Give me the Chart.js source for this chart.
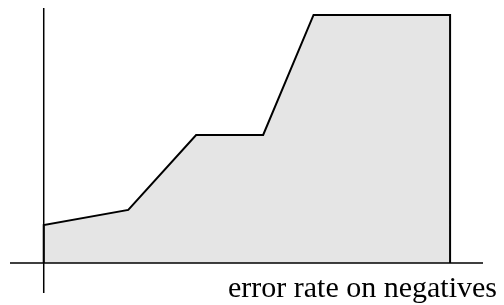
<!DOCTYPE html>
<html lang="en">
<head>
    <meta charset="UTF-8">
    <title>Error rate on negatives</title>
    <script src="https://cdn.jsdelivr.net/npm/chart.js@4.4.4/dist/chart.umd.min.js"></script>
    <style>
        body {
            margin: 0;
            background-color: white;
        }
        #chart-container {
            width: 504px;
            height: 305px;
        }
    </style>
</head>
<body>
    <div id="chart-container">
        <canvas id="cost-chart" width="504" height="305"></canvas>
    </div>

    <script>
        // curve points (x = error rate on negatives, y = height)
        const xValues = [0, 0, 0.208, 0.375, 0.540, 0.664, 1, 1];
        const yValues = [0, 0.153, 0.214, 0.516, 0.516, 1, 1, 0];
        const xLabel = 'error rate on negatives';

        // axis ranges, so the axis lines stick out past the curve
        const xRange = [-0.083, 1.081];
        const yRange = [-0.121, 1.028];

        const points = xValues.map((x, i) => ({ x: x, y: yValues[i] }));

        // draws the two crossing axis lines through zero and the label
        const axesPlugin = {
            id: 'axesLines',
            afterDatasetsDraw(chart) {
                const ctx = chart.ctx;
                const area = chart.chartArea;
                const x0 = chart.scales.x.getPixelForValue(0);
                const y0 = chart.scales.y.getPixelForValue(0);
                ctx.save();
                ctx.strokeStyle = '#000';
                ctx.lineWidth = 1.5;
                ctx.beginPath();
                ctx.moveTo(area.left, y0);
                ctx.lineTo(area.right, y0);
                ctx.moveTo(x0, area.top);
                ctx.lineTo(x0, area.bottom);
                ctx.stroke();

                ctx.fillStyle = '#000';
                ctx.font = '30px "Liberation Serif", "Times New Roman", serif';
                ctx.textAlign = 'right';
                ctx.textBaseline = 'alphabetic';
                ctx.fillText(xLabel, area.right + 14, area.bottom + 4);
                ctx.restore();
            }
        };

        const ctx = document.getElementById('cost-chart').getContext('2d');
        new Chart(ctx, {
            type: 'scatter',
            data: {
                datasets: [{
                    data: points,
                    showLine: true,
                    borderColor: '#000',
                    borderWidth: 2,
                    borderJoinStyle: 'miter',
                    backgroundColor: 'rgb(229, 229, 229)',
                    fill: 'origin',
                    pointRadius: 0,
                    tension: 0
                }]
            },
            options: {
                responsive: false,
                animation: false,
                layout: {
                    padding: { left: 10, right: 21, top: 8, bottom: 12 }
                },
                plugins: {
                    legend: { display: false },
                    tooltip: { enabled: false }
                },
                scales: {
                    x: { type: 'linear', min: xRange[0], max: xRange[1], display: false },
                    y: { type: 'linear', min: yRange[0], max: yRange[1], display: false }
                }
            },
            plugins: [axesPlugin]
        });
    </script>
</body>
</html>
